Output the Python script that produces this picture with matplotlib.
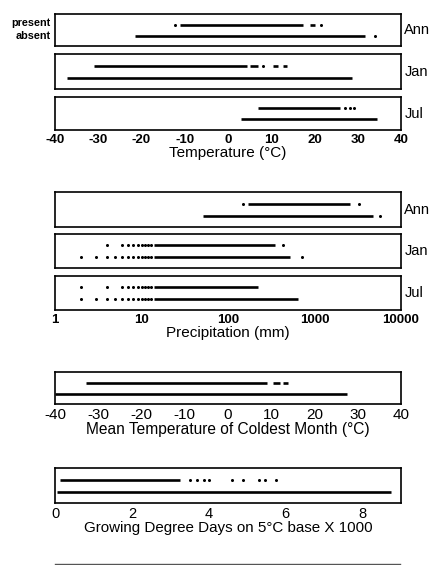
import matplotlib

matplotlib.use("Agg")

import matplotlib.pyplot as plt
from matplotlib.lines import Line2D

plt.rcParams["font.family"] = ["Liberation Sans", "DejaVu Sans"]
plt.rcParams["axes.unicode_minus"] = False

# temperature panels (deg C)
TEMP_MONTHS = ["Ann", "Jan", "Jul"]
TEMP_PRESENT_SPANS = [
    [(-11.1, 17.3), (19.0, 20.1)],
    [(-31.0, 4.3), (5.1, 7.0), (10.3, 11.6), (12.7, 13.6)],
    [(7.0, 25.9)],
]
TEMP_PRESENT_DOTS = [[-12.3, 21.4], [8.1], [27.0, 28.2, 29.1]]
TEMP_ABSENT_SPANS = [[(-21.5, 31.7)], [(-37.3, 28.6)], [(3.0, 34.5)]]
TEMP_ABSENT_DOTS = [[34.0], [], []]
TEMP_TICKS = [-40, -30, -20, -10, 0, 10, 20, 30, 40]

# precipitation panels (mm, log scale)
PREC_MONTHS = ["Ann", "Jan", "Jul"]
PREC_PRESENT_SPANS = [[(171, 2570)], [(14, 350)], [(14, 225)]]
PREC_PRESENT_DOTS = [
    [148, 3300],
    [4, 6, 7, 8, 9, 10, 11, 12, 13, 435],
    [2, 4, 6, 7, 8, 9, 10, 11, 12, 13],
]
PREC_ABSENT_SPANS = [[(51, 4700)], [(14, 520)], [(14, 650)]]
PREC_ABSENT_DOTS = [
    [5700],
    [2, 3, 4, 5, 6, 7, 8, 9, 10, 11, 12, 13, 710],
    [2, 3, 4, 5, 6, 7, 8, 9, 10, 11, 12, 13],
]
PREC_TICKS = [1, 10, 100, 1000, 10000]

# mean temperature of coldest month
MTCO_PRESENT_SPANS = [(-32.8, 9.0), (10.3, 12.0), (12.7, 13.9)]
MTCO_PRESENT_DOTS = []
MTCO_ABSENT_SPANS = [(-40.0, 27.5)]
MTCO_ABSENT_DOTS = []

# growing degree days (x1000)
GDD_PRESENT_SPANS = [(0.13, 3.25)]
GDD_PRESENT_DOTS = [3.5, 3.7, 3.87, 4.0, 4.6, 4.9, 5.3, 5.45, 5.75]
GDD_ABSENT_SPANS = [(0.05, 8.75)]
GDD_ABSENT_DOTS = []
GDD_TICKS = [0, 2, 4, 6, 8]

W, H = 433, 565
LEFT, RIGHT = 55, 401
Y_PRESENT, Y_ABSENT = 0.67, 0.32


def add_box(fig, top, bottom):
    ax = fig.add_axes([LEFT / W, 1 - bottom / H, (RIGHT - LEFT) / W, (bottom - top) / H])
    for sp in ax.spines.values():
        sp.set_linewidth(1.2)
    ax.set_ylim(0, 1)
    ax.set_yticks([])
    ax.tick_params(axis="x", length=0, pad=3, labelsize=9.5)
    return ax


def draw_row(ax, spans, dots, y):
    for x0, x1 in spans:
        ax.plot([x0, x1], [y, y], color="black", lw=1.9, solid_capstyle="butt")
    if dots:
        ax.plot(dots, [y] * len(dots), "o", color="black", ms=2.2, mew=0)


def bold_ticks(ax):
    for lab in ax.get_xticklabels():
        lab.set_fontweight("bold")


fig = plt.figure(figsize=(W / 100, H / 100), dpi=100)

# temperature
temp_boxes = [(14, 46), (54, 89), (97, 130)]
for i, (t, b) in enumerate(temp_boxes):
    ax = add_box(fig, t, b)
    ax.set_xlim(-40, 40)
    ax.set_xticks(TEMP_TICKS)
    draw_row(ax, TEMP_PRESENT_SPANS[i], TEMP_PRESENT_DOTS[i], Y_PRESENT)
    draw_row(ax, TEMP_ABSENT_SPANS[i], TEMP_ABSENT_DOTS[i], Y_ABSENT)
    ax.text(1.01, 0.5, TEMP_MONTHS[i], transform=ax.transAxes, ha="left",
            va="center", fontsize=10.5)
    if i < 2:
        ax.set_xticklabels([])
    else:
        bold_ticks(ax)
        ax.set_xlabel("Temperature (°C)", fontsize=11, labelpad=0)
    if i == 0:
        ax.text(-0.012, Y_PRESENT + 0.05, "present", transform=ax.transAxes,
                ha="right", va="center", fontsize=7.8, fontweight="bold")
        ax.text(-0.012, Y_ABSENT - 0.02, "absent", transform=ax.transAxes,
                ha="right", va="center", fontsize=7.8, fontweight="bold")

# precipitation
prec_boxes = [(192, 227), (234, 268), (276, 310)]
for i, (t, b) in enumerate(prec_boxes):
    ax = add_box(fig, t, b)
    ax.set_xscale("log")
    ax.set_xlim(1, 10000)
    ax.set_xticks(PREC_TICKS)
    ax.minorticks_off()
    draw_row(ax, PREC_PRESENT_SPANS[i], PREC_PRESENT_DOTS[i], Y_PRESENT)
    draw_row(ax, PREC_ABSENT_SPANS[i], PREC_ABSENT_DOTS[i], Y_ABSENT)
    ax.text(1.01, 0.5, PREC_MONTHS[i], transform=ax.transAxes, ha="left",
            va="center", fontsize=10.5)
    if i < 2:
        ax.set_xticklabels([])
    else:
        ax.set_xticklabels([str(v) for v in PREC_TICKS])
        bold_ticks(ax)
        ax.set_xlabel("Precipitation (mm)", fontsize=11, labelpad=0)

# coldest month
ax = add_box(fig, 372, 404)
ax.set_xlim(-40, 40)
ax.set_xticks(TEMP_TICKS)
draw_row(ax, MTCO_PRESENT_SPANS, MTCO_PRESENT_DOTS, Y_PRESENT)
draw_row(ax, MTCO_ABSENT_SPANS, MTCO_ABSENT_DOTS, Y_ABSENT)
ax.tick_params(axis="x", labelsize=11)
ax.set_xlabel("Mean Temperature of Coldest Month (°C)", fontsize=11.2, labelpad=0)

# growing degree days
ax = add_box(fig, 468, 503)
ax.set_xlim(0, 9)
ax.set_xticks(GDD_TICKS)
draw_row(ax, GDD_PRESENT_SPANS, GDD_PRESENT_DOTS, Y_PRESENT)
draw_row(ax, GDD_ABSENT_SPANS, GDD_ABSENT_DOTS, Y_ABSENT)
ax.tick_params(axis="x", labelsize=10.5)
ax.set_xlabel("Growing Degree Days on 5°C base X 1000", fontsize=10.9, labelpad=0)

# top edge of the next (cut off) panel
fig.add_artist(Line2D([LEFT / W, 400 / W], [1.5 / H, 1.5 / H], color="#555555", lw=1.0))

fig.savefig("out.png", dpi=100)
